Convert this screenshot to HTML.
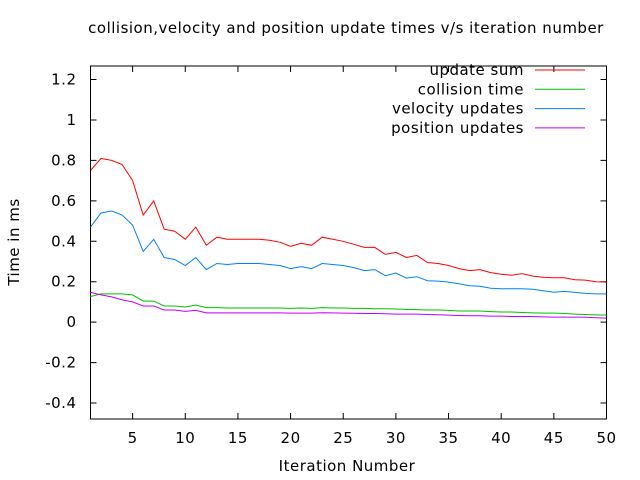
<!DOCTYPE html>
<html><head><meta charset="utf-8"><style>
body{margin:0;background:#fff}
svg{display:block;font-family:"DejaVu Sans",sans-serif}
text{letter-spacing:0.5px}
</style></head><body>
<svg id="chart" width="640" height="480">
<text x="346" y="33" font-size="15" text-anchor="middle">collision,velocity and position update times v/s iteration number</text>
<text x="347" y="471" font-size="15" text-anchor="middle">Iteration Number</text>
<text x="0" y="0" font-size="15" text-anchor="middle" transform="translate(19,242) rotate(-90)">Time in ms</text>
<g id="axes"></g>
<g id="series"></g>
<g id="legend"></g>
</svg>
<script>
const iterations = Array.from({length:50},(_, i)=>i+1);
const xTicks = [5,10,15,20,25,30,35,40,45,50];
const yTicks = [-0.4,-0.2,0,0.2,0.4,0.6,0.8,1,1.2];
const seriesNames = ["update sum","collision time","velocity updates","position updates"];
const updateSum = [0.75,0.81,0.80,0.78,0.70,0.53,0.60,0.46,0.45,0.41,0.47,0.38,0.42,0.41,0.41,0.41,0.41,0.405,0.395,0.375,0.39,0.38,0.42,0.41,0.40,0.385,0.37,0.37,0.335,0.345,0.32,0.33,0.295,0.29,0.28,0.265,0.255,0.26,0.245,0.237,0.232,0.24,0.228,0.222,0.22,0.22,0.21,0.208,0.2,0.198];
const collisionTime = [0.127,0.14,0.14,0.14,0.135,0.104,0.104,0.08,0.08,0.075,0.085,0.072,0.072,0.07,0.07,0.07,0.07,0.07,0.07,0.068,0.07,0.068,0.072,0.07,0.07,0.068,0.068,0.066,0.066,0.065,0.063,0.062,0.06,0.06,0.058,0.055,0.055,0.055,0.052,0.05,0.05,0.048,0.046,0.045,0.045,0.043,0.04,0.038,0.036,0.035];
const velocityUpdates = [0.47,0.54,0.55,0.53,0.48,0.35,0.41,0.32,0.31,0.28,0.32,0.26,0.29,0.285,0.29,0.29,0.29,0.285,0.28,0.265,0.275,0.265,0.29,0.285,0.28,0.27,0.255,0.26,0.23,0.243,0.218,0.225,0.205,0.203,0.198,0.19,0.18,0.178,0.168,0.165,0.165,0.165,0.163,0.155,0.148,0.152,0.147,0.142,0.14,0.14];
const positionUpdates = [0.147,0.135,0.125,0.11,0.10,0.08,0.08,0.06,0.06,0.053,0.058,0.046,0.046,0.046,0.046,0.046,0.046,0.046,0.046,0.045,0.045,0.045,0.047,0.046,0.045,0.044,0.043,0.043,0.042,0.04,0.04,0.04,0.038,0.037,0.035,0.033,0.032,0.032,0.03,0.03,0.028,0.028,0.028,0.026,0.025,0.025,0.025,0.024,0.022,0.02];
const colors = ["#ff0000","#00c000","#0080ff","#c000ff"];

const NS="http://www.w3.org/2000/svg";
const L=90.5,R=606.5,T=66,B=419;
const xMin=1,xMax=50,yMin=-0.479,yMax=1.267;
function xs(v){return L+(v-xMin)/(xMax-xMin)*(R-L);}
function ys(v){return B-(v-yMin)/(yMax-yMin)*(B-T);}
function mk(tag,attrs,parent){const e=document.createElementNS(NS,tag);for(const k in attrs)e.setAttribute(k,attrs[k]);parent.appendChild(e);return e;}
const axes=document.getElementById('axes');
const frame=mk('rect',{x:L,y:T,width:R-L,height:B-T,fill:'none',stroke:'#000','stroke-width':1},axes);


xTicks.forEach(t=>{
  const x=xs(t);
  const l=mk('path',{d:`M${x},${B}v-6M${x},${T}v6`,stroke:'#000'},axes);
  
  
  const tx=mk('text',{x:x,y:B+24,'font-size':15,'text-anchor':'middle'},axes);
  tx.textContent=t;
  
  
});
yTicks.forEach(t=>{
  const y=ys(t);
  const l=mk('path',{d:`M${L},${y}h6M${R},${y}h-6`,stroke:'#000'},axes);
  
  
  const tx=mk('text',{x:L-14,y:y+5,'font-size':15,'text-anchor':'end'},axes);
  tx.textContent=(Math.round(t*10)/10).toString();
  
  
});
const data=[updateSum,collisionTime,velocityUpdates,positionUpdates];
const sg=document.getElementById('series');
const lg=document.getElementById('legend');
data.forEach((arr,i)=>{
  const d=arr.map((v,j)=>(j?'L':'M')+xs(iterations[j]).toFixed(1)+','+ys(v).toFixed(1)).join('');
  const p=mk('path',{d:d,fill:'none',stroke:colors[i],'stroke-width':1},sg);
  
  
  const ly=70+i*19.3;
  const t=mk('text',{x:524,y:ly+5,'font-size':15,'text-anchor':'end'},lg);
  t.textContent=seriesNames[i];
  
  
  const ll=mk('path',{d:`M535,${ly}H585`,stroke:colors[i]},lg);
  
  
});
</script>
</body></html>
